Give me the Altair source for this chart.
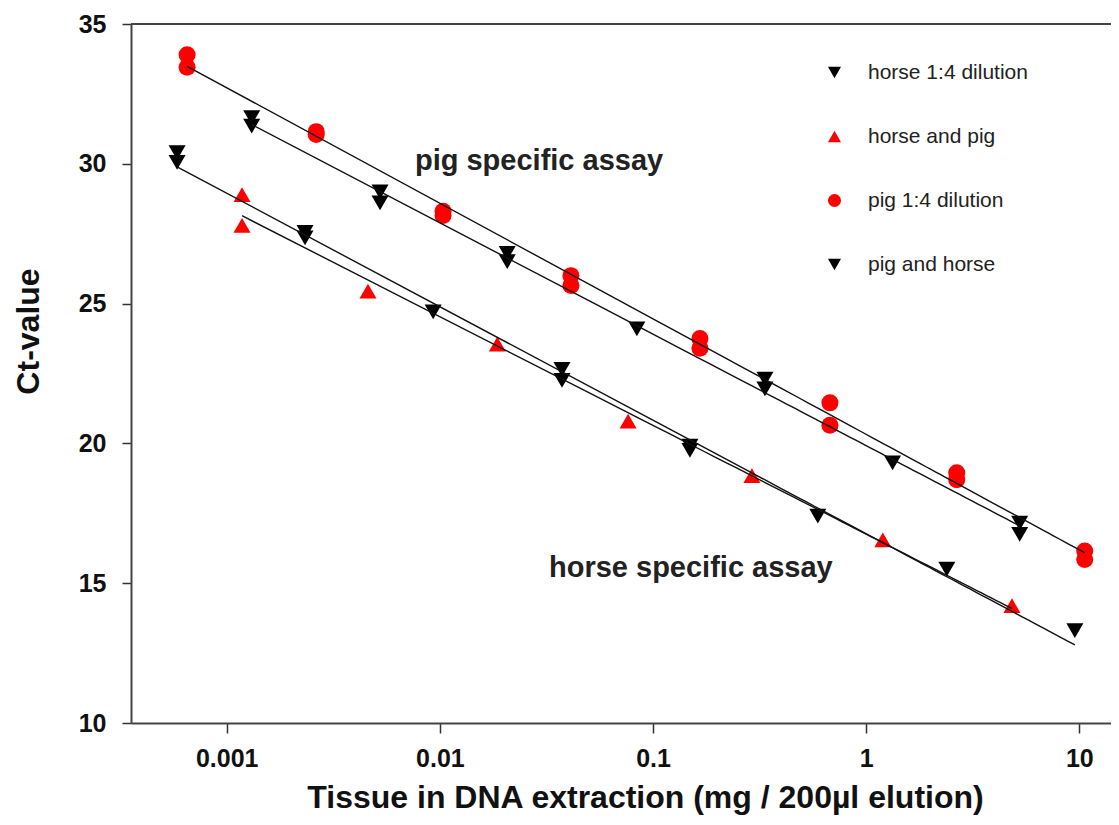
import altair as alt
import pandas as pd

# ---- data ----
SERIES = ["horse 1:4 dilution", "horse and pig", "pig 1:4 dilution", "pig and horse"]
COLORS = ["#000000", "#ff0000", "#ff0000", "#000000"]
SHAPES = ["triangle-down", "triangle-up", "circle", "triangle-down"]

horse14_x = [0.000585, 0.000585, 0.00233, 0.00233, 0.0093, 0.0374, 0.0374, 0.149, 0.149, 0.593, 2.39, 9.53]
horse14_y = [30.4, 30.05, 27.55, 27.35, 24.7, 22.65, 22.25, 19.9, 19.75, 17.4, 15.5, 13.3]

horsepig_x = [0.00118, 0.00118, 0.0046, 0.0186, 0.0764, 0.291, 1.197, 4.83]
horsepig_y = [28.9, 27.8, 25.45, 23.55, 20.8, 18.85, 16.55, 14.2]

pig14_x = [0.000652, 0.000652, 0.00263, 0.00263, 0.01035, 0.01035, 0.0412, 0.0412,
           0.166, 0.166, 0.676, 0.676, 2.66, 2.66, 10.6, 10.6]
pig14_y = [33.9, 33.45, 31.15, 31.05, 28.3, 28.15, 26.0, 25.65,
           23.75, 23.4, 21.45, 20.65, 18.95, 18.7, 16.15, 15.85]

pighorse_x = [0.00131, 0.00131, 0.00524, 0.00524, 0.0207, 0.0207, 0.084, 0.335, 0.335, 1.33, 5.25, 5.25]
pighorse_y = [31.65, 31.35, 29.0, 28.6, 26.8, 26.5, 24.1, 22.3, 21.95, 19.3, 17.15, 16.75]

X_TICKS = [0.001, 0.01, 0.1, 1, 10]
Y_TICKS = [10, 15, 20, 25, 30, 35]
X_DOMAIN = [0.0003556, 14.08]
Y_DOMAIN = [10, 35]

ANNOT_TEXT = ["pig specific assay", "horse specific assay"]
ANNOT_X = [0.00764, 0.0325]
ANNOT_Y = [30.1, 15.55]

rows = []
for name, xs, ys in [(SERIES[0], horse14_x, horse14_y), (SERIES[1], horsepig_x, horsepig_y),
                     (SERIES[2], pig14_x, pig14_y), (SERIES[3], pighorse_x, pighorse_y)]:
    for xv, yv in zip(xs, ys):
        rows.append({"series": name, "x": xv, "ct": yv})
df = pd.DataFrame(rows)
annot = pd.DataFrame({"text": ANNOT_TEXT, "x": ANNOT_X, "ct": ANNOT_Y})

FONT = "Liberation Sans"

xscale = alt.Scale(type="log", domain=X_DOMAIN, nice=False)
yscale = alt.Scale(domain=Y_DOMAIN, nice=False, zero=False)

xaxis = alt.Axis(values=X_TICKS, format="~g", title="Tissue in DNA extraction (mg / 200\u00b5l elution)",
                 grid=False, tickSize=10, tickWidth=1.5, tickColor="#333333",
                 domainColor="#444444", domainWidth=2,
                 labelFont=FONT, labelFontSize=25, labelFontWeight="bold", labelColor="#111111",
                 labelPadding=13, titleFont=FONT, titleFontSize=32, titleFontWeight="bold",
                 titleColor="#111111", titlePadding=11, titleX=514, labelFlush=False)
yaxis = alt.Axis(values=Y_TICKS, title="Ct-value", grid=False, tickSize=9, tickWidth=1.5,
                 tickColor="#333333", domainColor="#444444", domainWidth=2,
                 labelFont=FONT, labelFontSize=25, labelFontWeight="bold", labelColor="#111111",
                 labelPadding=16, titleFont=FONT, titleFontSize=32, titleFontWeight="bold",
                 titleColor="#111111", titleX=-103, titleY=307, titleAngle=-90,
                 titleBaseline="middle", titleAlign="center", labelFlush=False)

base = alt.Chart(df)

points = base.mark_point(filled=True, size=290, opacity=1, strokeWidth=0).encode(
    x=alt.X("x:Q", scale=xscale, axis=xaxis),
    y=alt.Y("ct:Q", scale=yscale, axis=yaxis),
    color=alt.Color("series:N", scale=alt.Scale(domain=SERIES, range=COLORS),
                    legend=alt.Legend(title=None, orient="none", legendX=693, legendY=38,
                                      labelFont=FONT, labelFontSize=21, labelColor="#222222",
                                      symbolSize=170, rowPadding=42, labelOffset=23,
                                      symbolStrokeWidth=0)),
    shape=alt.Shape("series:N", scale=alt.Scale(domain=SERIES, range=SHAPES)),
)

lines = base.transform_regression("x", "ct", method="log", groupby=["series"]).mark_line(
    color="#111111", strokeWidth=1.4
).encode(
    x=alt.X("x:Q", scale=xscale),
    y=alt.Y("ct:Q", scale=yscale),
    detail="series:N",
)

texts = alt.Chart(annot).mark_text(align="left", baseline="middle", font=FONT, fontSize=29,
                                   fontWeight="bold", color="#222222").encode(
    x=alt.X("x:Q", scale=xscale),
    y=alt.Y("ct:Q", scale=yscale),
    text="text:N",
)

top = alt.Chart(df).mark_rule(color="#444444", strokeWidth=2).encode(y=alt.datum(Y_DOMAIN[1]))

chart = alt.layer(points, lines, texts, top).properties(
    width=980, height=699,
    autosize=alt.AutoSizeParams(type="none"),
    padding={"left": 123, "top": 16, "right": 0, "bottom": 94},
).configure_view(stroke=None).configure(background="white")

chart.save("out.html", embed_options={"renderer": "svg", "actions": False})
